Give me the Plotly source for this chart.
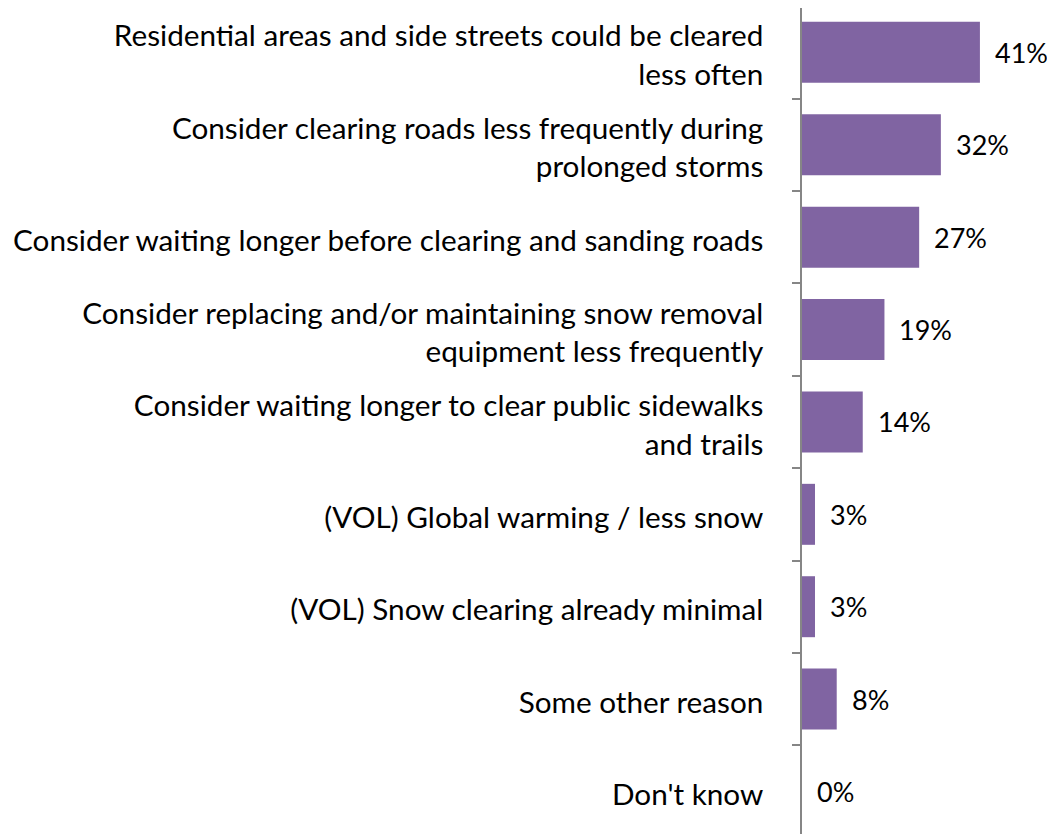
import plotly.graph_objects as go

categories = [
    "Residential areas and side streets could be cleared<br>less often",
    "Consider clearing roads less frequently during<br>prolonged storms",
    "Consider waiting longer before clearing and sanding roads",
    "Consider replacing and/or maintaining snow removal<br>equipment less frequently",
    "Consider waiting longer to clear public sidewalks<br>and trails",
    "(VOL) Global warming / less snow",
    "(VOL) Snow clearing already minimal",
    "Some other reason",
    "Don't know",
]
values = [41, 32, 27, 19, 14, 3, 3, 8, 0]
value_labels = [f"{v}%" for v in values]

FONT = "Lato"
fig = go.Figure()
fig.add_trace(go.Bar(
    x=values, y=categories, orientation="h",
    marker=dict(color="#8064A2", line=dict(width=0)),
    width=0.66, hoverinfo="skip",
))
for v, c, t in zip(values, categories, value_labels):
    fig.add_annotation(x=v, y=c, text=t, showarrow=False, xanchor="left",
                       xshift=13, font=dict(family=FONT, size=27, color="#000"))

fig.update_layout(
    width=1047, height=826,
    margin=dict(l=794, r=0, t=0, b=0, autoexpand=False),
    plot_bgcolor="white", paper_bgcolor="white",
    showlegend=False,
    font=dict(family=FONT, size=29.7, color="#000"),
)
fig.update_xaxes(range=[0, 58.3], visible=False, automargin=False)
fig.update_yaxes(
    type="category", categoryorder="array", categoryarray=categories,
    range=[8.46, -0.48], automargin=False,
    showline=True, linecolor="#868686", linewidth=1.5,
    ticks="outside", tickson="boundaries", ticklen=8, tickcolor="#868686", tickwidth=1.5,
    ticklabelstandoff=31, ticklabelshift=-3, showgrid=False, zeroline=False,
    tickfont=dict(family=FONT, size=29.7, color="#000"),
)
fig.write_html("out.html")
